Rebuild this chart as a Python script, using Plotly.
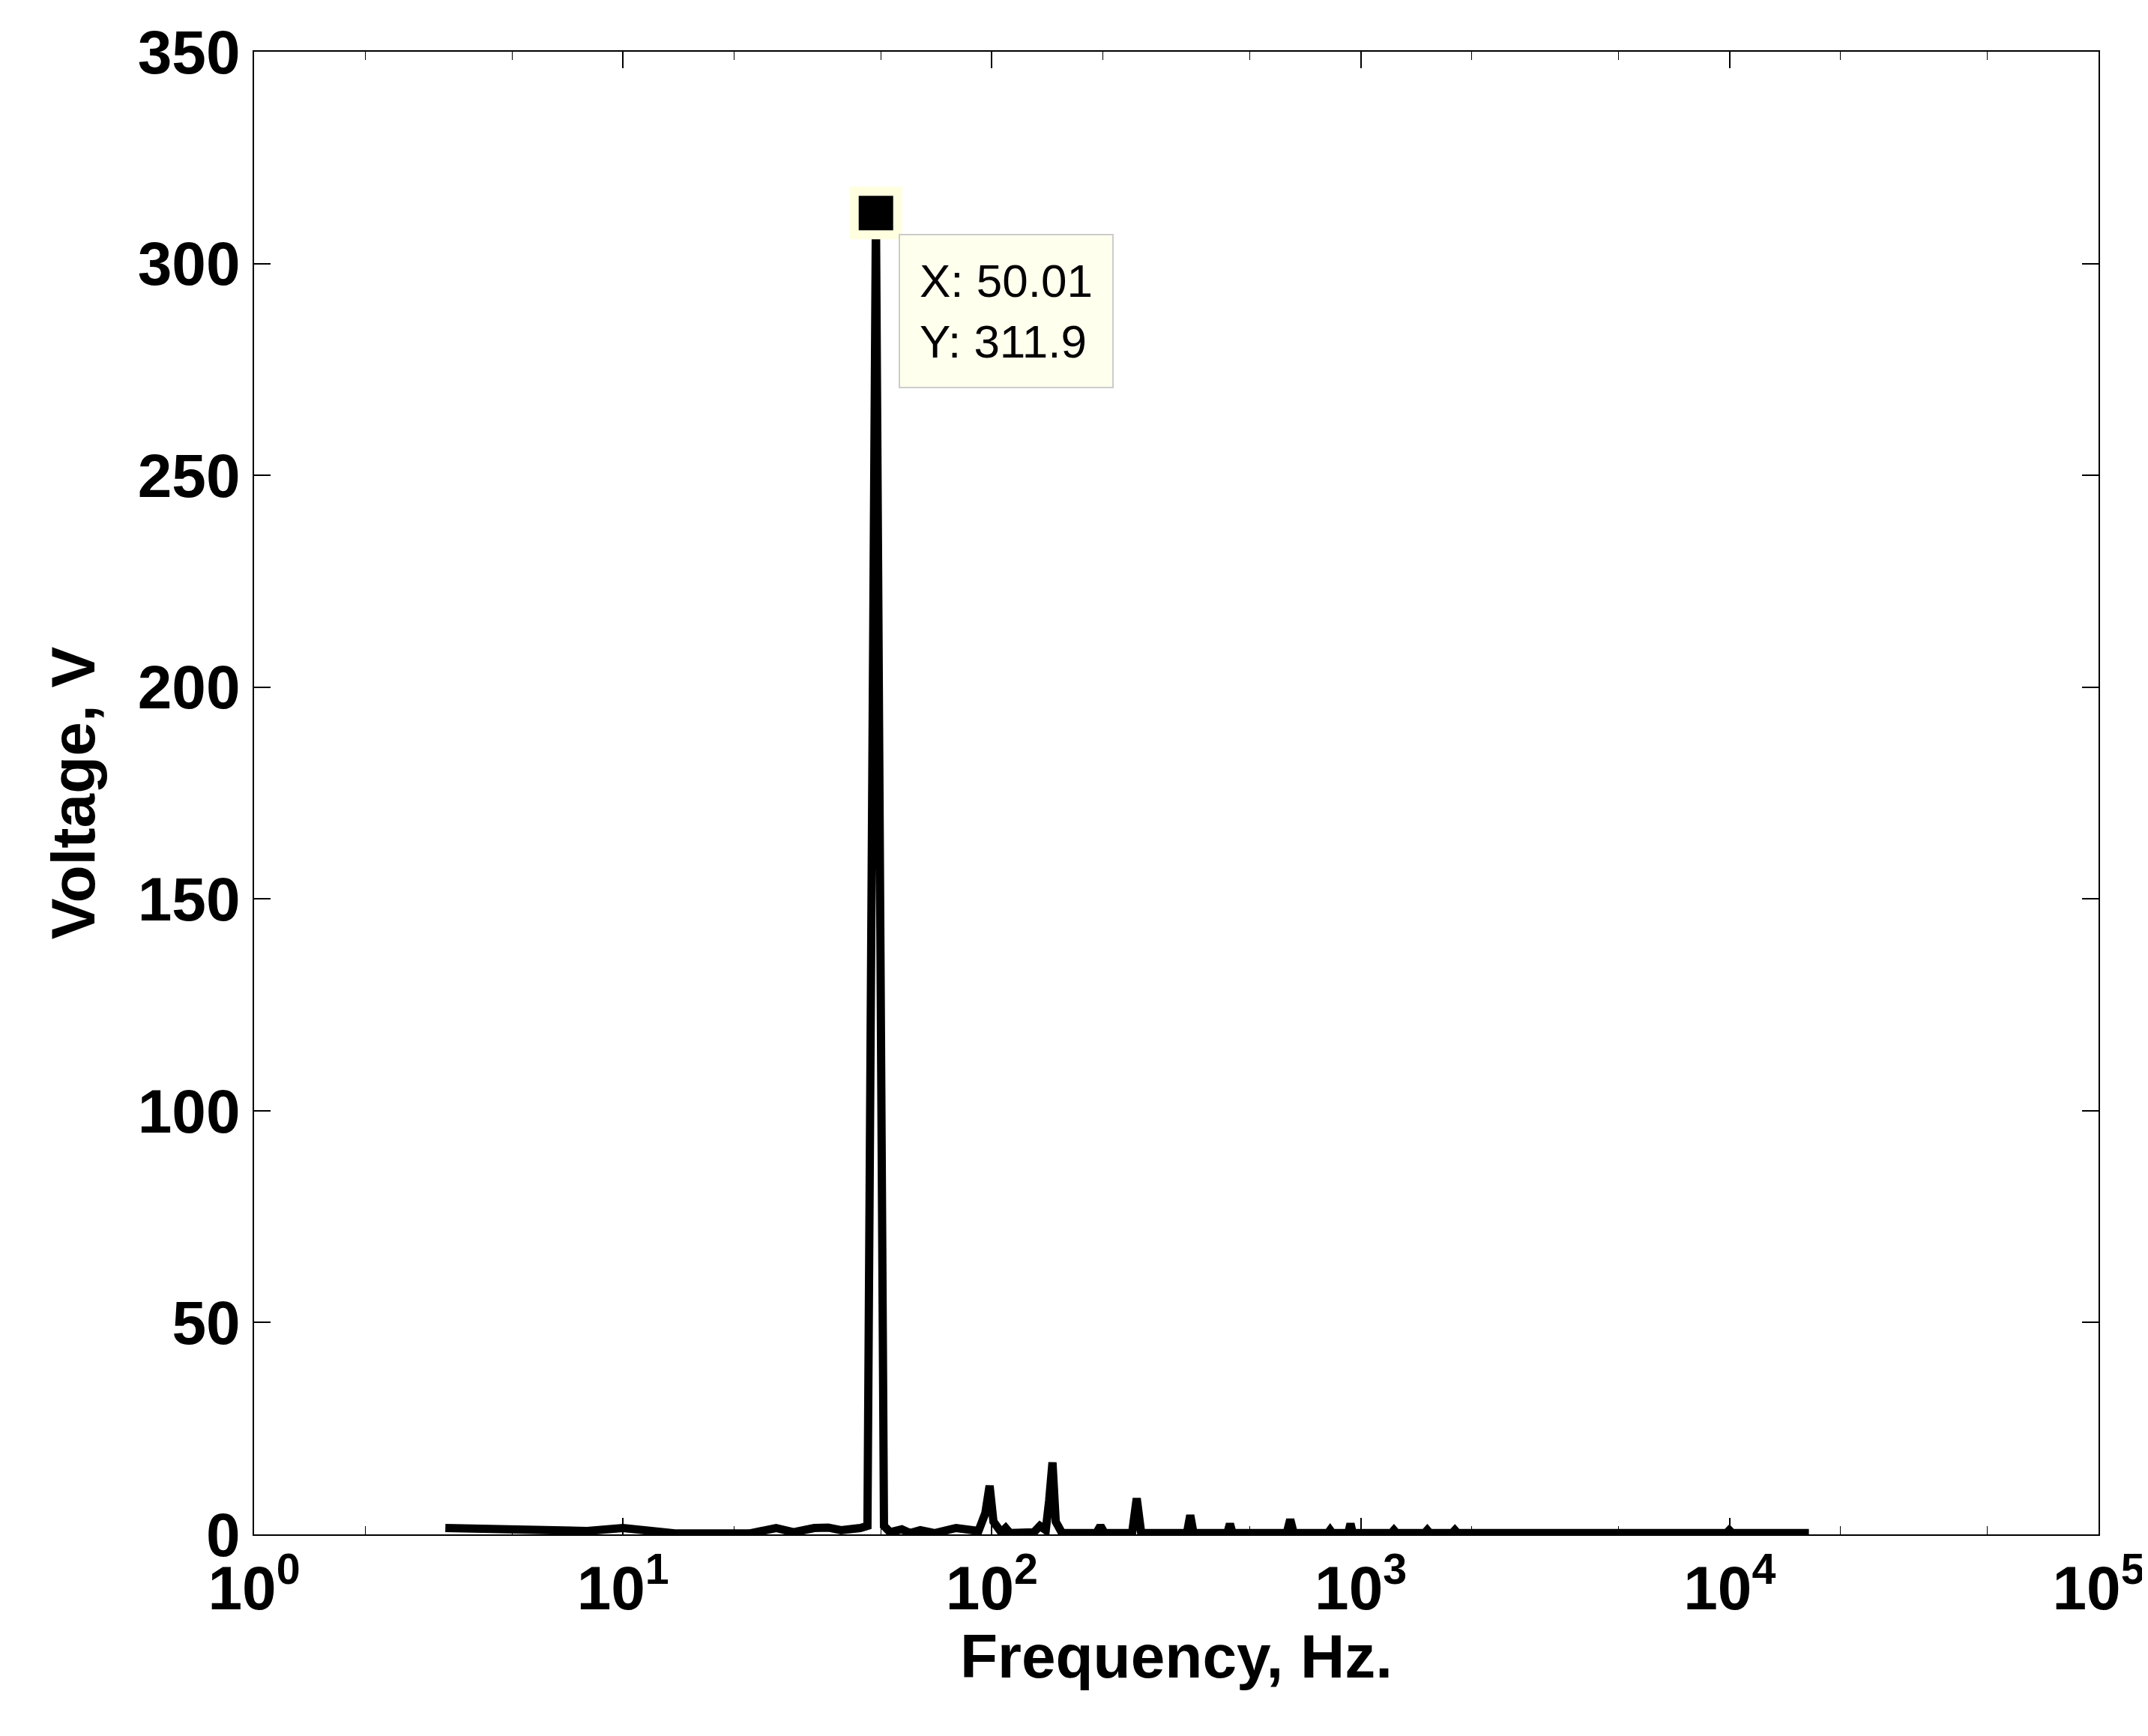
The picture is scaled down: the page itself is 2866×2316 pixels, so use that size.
import plotly.graph_objects as go

# spectrum (Hz, V)
freq_hz = [3.3, 4.5, 6.0, 8.0, 10.0, 12.0, 14.0, 22.0, 24.0, 26.0, 29.0, 33.0, 36.0, 39.0, 44.0,
           46.0, 48.5, 51.0, 53.0, 57.0, 60.0, 64.0, 70.0, 80.0, 92.0, 96.0, 98.6, 101.0, 106.0,
           109.0, 112.0, 130.0, 135.0, 140.0, 143.0, 146.0, 149.0, 155.0, 192.0, 197.0, 202.0,
           240.0, 247.0, 254.0, 338.0, 345.0, 352.0, 435.0, 442.0, 449.0, 630.0, 644.0, 658.0,
           815.0, 826.0, 837.0, 925.0, 938.0, 951.0, 1210.0, 1230.0, 1250.0, 1490.0, 1515.0,
           1540.0, 1770.0, 1800.0, 1830.0, 9800.0, 9980.0, 10160.0, 16400.0]
voltage_v = [1.5, 1.2, 0.6, 0.8, 1.5, 0.8, 0.2, 0.2, 0.8, 1.5, 0.5, 1.5, 1.6, 1.0, 1.5,
             2.0, 311.9, 2.0, 0.5, 1.2, 0.3, 1.0, 0.3, 1.5, 0.8, 5.0, 11.5, 3.0, 0.5,
             1.5, 0.3, 0.5, 2.0, 1.0, 8.0, 17.0, 3.0, 0.3, 0.3, 2.0, 0.3,
             0.3, 8.5, 0.3, 0.3, 4.5, 0.3, 0.3, 2.5, 0.3, 0.3, 3.5, 0.3,
             0.3, 1.0, 0.3, 0.3, 2.5, 0.3, 0.3, 1.0, 0.3, 0.3, 1.0,
             0.3, 0.3, 1.0, 0.3, 0.3, 1.0, 0.3, 0.3]

peak_x = 48.5
peak_y = 311.9
peak_label = "X: 50.01<br>Y: 311.9"

x_tickvals = [1, 10, 100, 1000, 10000, 100000]
x_ticktext = ["10<sup>%d</sup>" % i for i in range(6)]
y_tickvals = [0, 50, 100, 150, 200, 250, 300, 350]

font_family = "Liberation Sans"

fig = go.Figure()
fig.add_trace(go.Scatter(x=freq_hz, y=voltage_v, mode="lines",
                         line=dict(color="black", width=11), showlegend=False))
fig.add_trace(go.Scatter(x=[peak_x], y=[peak_y], mode="markers", showlegend=False,
                         marker=dict(symbol="square", size=58, color="black",
                                     line=dict(color="#ffffe0", width=12))))
fig.add_annotation(x=1.748, y=307, xref="x", yref="y", text=peak_label, showarrow=False,
                   xanchor="left", yanchor="top", align="left",
                   bgcolor="#ffffee", bordercolor="#cccccc", borderwidth=2, borderpad=26,
                   font=dict(family=font_family, size=62, color="black", weight="normal"))

axis_common = dict(showline=True, linecolor="black", linewidth=2, mirror="ticks",
                   ticks="inside", ticklen=22, tickwidth=2, tickcolor="black",
                   showgrid=False, zeroline=False)
fig.update_xaxes(type="log", range=[0, 5], tickvals=x_tickvals, ticktext=x_ticktext,
                 minor=dict(ticks="inside", ticklen=11, tickwidth=1, tickcolor="black",
                            showgrid=False),
                 title=dict(text="<b>Frequency, Hz.</b>", font=dict(size=82), standoff=6),
                 tickfont=dict(size=82), **axis_common)
fig.update_yaxes(range=[0, 350], tickvals=y_tickvals,
                 title=dict(text="<b>Voltage, V</b>", font=dict(size=82), standoff=30),
                 tickfont=dict(size=82), **axis_common)
fig.update_layout(width=2866, height=2316, plot_bgcolor="white", paper_bgcolor="white",
                  font=dict(family=font_family, color="black", weight="bold"),
                  margin=dict(l=331, r=66, t=61, b=277))

fig.write_html("out.html")
